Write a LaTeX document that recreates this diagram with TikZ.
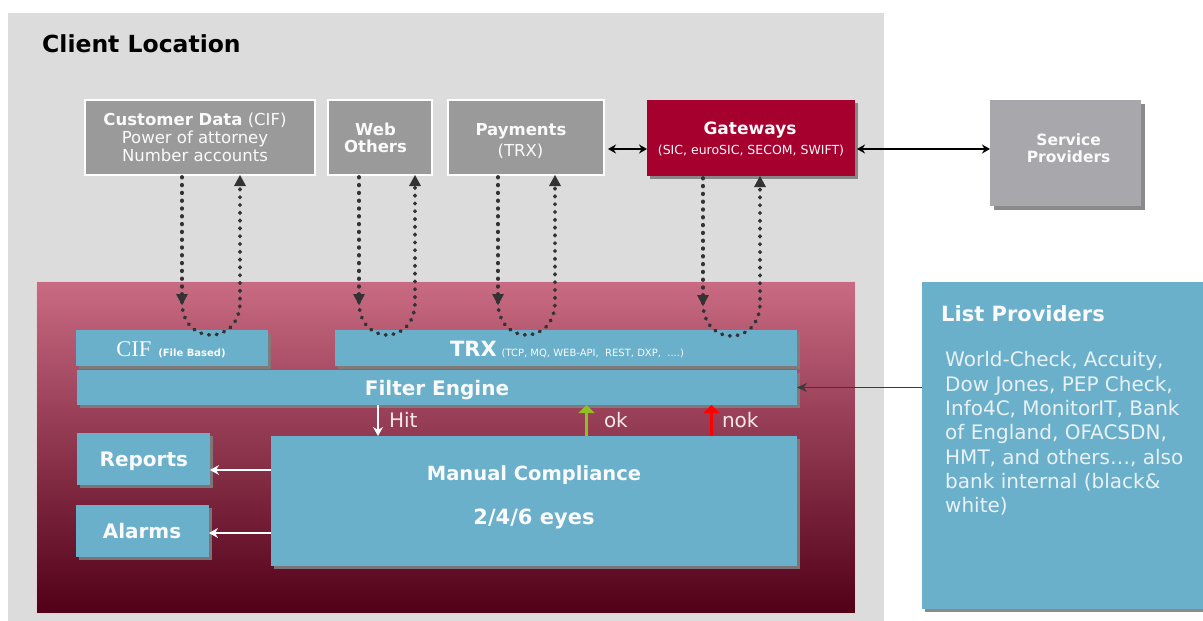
\documentclass[tikz,border=0pt]{standalone}
\usepackage{fontspec}
\setmainfont{DejaVu Sans}
\newfontfamily\seriffont{Liberation Serif}
\usetikzlibrary{arrows.meta,shadows,calc}
\definecolor{bggray}{HTML}{DCDCDC}
\definecolor{boxgray}{HTML}{9A9A9A}
\definecolor{gatered}{HTML}{A6002F}
\definecolor{svcgray}{HTML}{A8A8AC}
\definecolor{blueone}{HTML}{6AB0CB}
\definecolor{mtop}{HTML}{C96B83}
\definecolor{mbot}{HTML}{510018}
\definecolor{mline}{HTML}{E2D2D6}
\definecolor{shadowc}{HTML}{7E7E7E}
\definecolor{dotc}{HTML}{333333}
\definecolor{txtwhite}{HTML}{FAFAFA}
\definecolor{labc}{HTML}{F6E9EC}
\definecolor{lpt}{HTML}{EAF1F5}
\definecolor{okgreen}{HTML}{8CC21F}
\definecolor{nokred}{HTML}{FF0000}
\definecolor{lineg}{HTML}{3A3A3A}
\newcommand\fsz[1]{\fontsize{#1}{#1}\selectfont}
\newcommand\uloop[3]{%
  \draw[dotline,-{Triangle[length=11pt,width=12pt,line width=0pt]}]
    ($(#1.south)+(#2,2)$) -- ($(#1.south)+(#2,130)$);
  \draw[dotline,-{Triangle[length=11pt,width=12pt,line width=0pt]}]
    ($(#1.south)+(#2,127)$) .. controls ($(#1.south)+(#2,171)$) and ($(#1.south)+(#3,171)$) ..
    ($(#1.south)+(#3,127)$) -- ($(#1.south)+(#3,0)$);
}
\begin{document}
\begin{tikzpicture}[x=1pt,y=-1pt,
  box/.style={rectangle, inner sep=0pt, outer sep=0pt},
  topbox/.style={box, fill=boxgray, draw=white, line width=2pt},
  shad/.style={drop shadow={shadow xshift=3pt, shadow yshift=-3pt, fill=shadowc, opacity=0.9}},
  bluebox/.style={box, fill=blueone, shad},
  txt/.style={inner sep=0pt, outer sep=0pt, anchor=base, text=txtwhite},
  lab/.style={inner sep=0pt, outer sep=0pt, anchor=base west, text=labc, font=\fsz{20}},
  dotline/.style={draw=dotc, line width=3.8pt, line cap=round, dash pattern=on 0.6pt off 7.2pt},
  blackarr/.style={draw=black, line width=1.3pt, {Stealth[length=8pt,width=9pt]}-{Stealth[length=8pt,width=9pt]}},
  whitearr/.style={draw=white, line width=1.2pt, -{Stealth[length=9pt,width=10pt]}},
  uparr/.style={line width=3.5pt, -{Triangle[length=8pt,width=16pt]}}
]
\useasboundingbox (0,0) rectangle (1203,621);
\fill[white] (0,0) rectangle (1203,621);

% client location area
\node[box, fill=bggray, minimum width=876pt, minimum height=608pt] (client) at (446,317) {};
\node[inner sep=0pt, anchor=base west, font=\fsz{23.5}\bfseries] (cltitle) at (42,52) {Client Location};

% top boxes
\node[topbox, minimum width=230pt, minimum height=75pt] (cust) at (200,137.5) {};
\node[topbox, minimum width=104pt, minimum height=75pt] (web) at (380,137.5) {};
\node[topbox, minimum width=156pt, minimum height=75pt] (pay) at (526,137.5) {};
\node[box, fill=gatered, shad, minimum width=208pt, minimum height=76pt] (gate) at (751,138) {};
\node[box, fill=svcgray, drop shadow={shadow xshift=4pt, shadow yshift=-4pt, fill=shadowc, opacity=0.9}, minimum width=151pt, minimum height=106pt] (svc) at (1065.5,153) {};

\node[txt] (c1) at (195,125) {\fsz{16.5}{\bfseries Customer Data} (CIF)};
\node[txt] (c2) at (195,143) {\fsz{16.5}Power of attorney};
\node[txt] (c3) at (195,161) {\fsz{16.5}Number accounts};
\node[txt] (w1) at (375.5,135) {\fsz{16.5}\bfseries Web};
\node[txt] (w2) at (375.5,152.7) {\fsz{16.5}\bfseries Others};
\node[txt] (p1) at (521,135) {\fsz{16.5}\bfseries Payments};
\node[txt] (p2) at (520.5,156) {\fsz{16.5}(TRX)};
\node[txt] (g1) at (750,134.3) {\fsz{17}\bfseries Gateways};
\node[txt] (g2) at (751,154.3) {\fsz{12.5}(SIC, euroSIC, SECOM, SWIFT)};
\node[txt] (s1) at (1068.6,145) {\fsz{15.5}\bfseries Service};
\node[txt] (s2) at (1068.6,162) {\fsz{15.5}\bfseries Providers};

\coordinate (ay) at (0,149);
\draw[blackarr, shorten <=4pt] (pay.east |- ay) -- (gate.west |- ay);
\draw[blackarr, shorten <=2pt] (gate.east |- ay) -- (svc.west |- ay);

% system area
\node[box, top color=mtop, bottom color=mbot, draw=mline, line width=0.8pt,
      minimum width=819pt, minimum height=332pt] (sys) at (445.5,447) {};

\node[bluebox, minimum width=192pt, minimum height=36pt] (cif) at (172,348) {};
\node[bluebox, minimum width=462pt, minimum height=36pt] (trx) at (566,348) {};
\node[bluebox, minimum width=720pt, minimum height=35pt] (filter) at (437,387.5) {};
\node[bluebox, minimum width=526pt, minimum height=130pt] (mc) at (534,501) {};
\node[bluebox, minimum width=133pt, minimum height=52pt] (reports) at (143.5,459) {};
\node[bluebox, minimum width=133pt, minimum height=52pt] (alarms) at (142.5,531) {};

\node[txt] (ciftxt) at (171,356) {{\seriffont\fsz{22.5}CIF}\hspace{7pt}{\fsz{10}\bfseries(File Based)}};
\node[txt] (trxtxt) at (567,356) {{\fsz{21}\bfseries TRX}\hspace{5pt}{\fsz{10}(TCP, MQ, WEB-API,~ REST, DXP,~ ....)}};
\node[txt] (fetxt) at (437,395) {\fsz{20}\bfseries Filter Engine};
\node[txt] (mc1) at (534,480) {\fsz{19.5}\bfseries Manual Compliance};
\node[txt] (mc2) at (534,524) {\fsz{21}\bfseries 2/4/6 eyes};
\node[txt] (reptxt) at (143.8,466) {\fsz{20}\bfseries Reports};
\node[txt] (alatxt) at (142,538.7) {\fsz{20}\bfseries Alarms};

% dotted loops
\uloop{cust}{-18}{40}
\uloop{web}{-21}{35}
\uloop{pay}{-28}{29}
\uloop{gate}{-48}{9}

% hit / ok / nok
\coordinate (hitx) at (378,0);
\coordinate (okx) at (586.5,0);
\coordinate (nokx) at (711.5,0);
\draw[whitearr] (filter.south -| hitx) -- (mc.north -| hitx);
\draw[uparr, draw=okgreen] (mc.north -| okx) -- (filter.south -| okx);
\draw[uparr, draw=nokred] (mc.north -| nokx) -- (filter.south -| nokx);
\node[lab] (hit) at (389,427.7) {Hit};
\node[lab] (ok) at (604,427.7) {ok};
\node[lab] (nok) at (722,427.7) {nok};

% reports / alarms arrows
\coordinate (ra) at (0,470);
\coordinate (aa) at (0,533);
\draw[whitearr] (mc.west |- ra) -- (reports.east |- ra);
\draw[whitearr] (mc.west |- aa) -- (alarms.east |- aa);

% list providers
\node[box, fill=blueone, shad, minimum width=281pt, minimum height=327pt] (lp) at (1062.5,445.5) {};
\node[inner sep=0pt, anchor=base west, text=txtwhite, font=\fsz{21}\bfseries] (lptitle) at (941,321) {List Providers};
\node[inner sep=0pt, anchor=north west, text=lpt, align=left, font=\fontsize{20}{24.3}\selectfont] (lpbody) at (945,351.5)
  {World-Check, Accuity,\\Dow Jones, PEP Check,\\Info4C, MonitorIT, Bank\\of England, OFACSDN,\\HMT, and others\ldots, also\\bank internal (black\&\\white)};
\draw[draw=lineg, line width=1.2pt, -{Stealth[length=10pt,width=9pt]}] (lp.west |- filter.east) -- (filter.east);
\end{tikzpicture}
\end{document}
